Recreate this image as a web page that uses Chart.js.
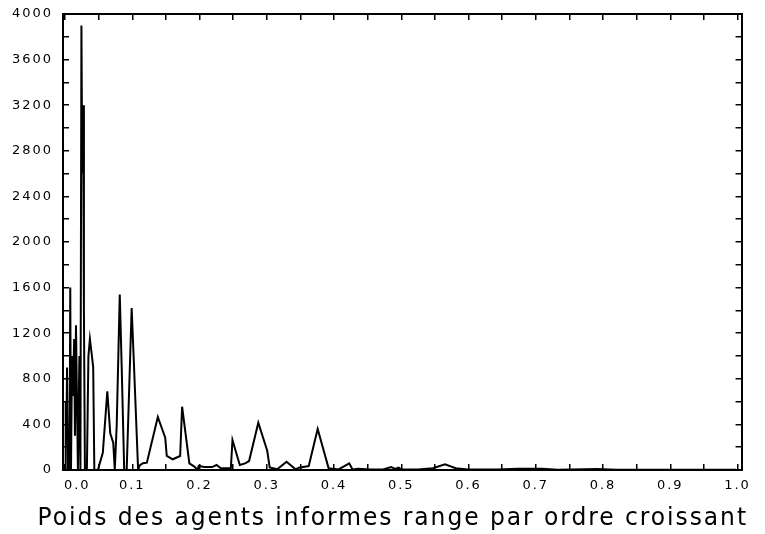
<!DOCTYPE html>
<html>
<head>
<meta charset="utf-8">
<script src="https://cdn.jsdelivr.net/npm/chart.js@4.4.1/dist/chart.umd.min.js"></script>
<style>
  html, body { margin: 0; padding: 0; background: #fff; }
  #wrap { width: 765px; height: 534px; }
</style>
</head>
<body>
<div id="wrap"><canvas id="chart" width="765" height="534"></canvas></div>
<script>
// poids des agents (x) et effectifs (y)
const weights = [
  0, 0.001, 0.002, 0.003, 0.0045, 0.0067, 0.0078, 0.0089, 0.0104, 0.0118,
  0.0136, 0.0148, 0.0163, 0.0178, 0.0192, 0.0214, 0.0229, 0.0244, 0.0256, 0.0269,
  0.0281, 0.0296, 0.0325, 0.0348, 0.037, 0.04, 0.0419, 0.0436, 0.0488, 0.0562,
  0.0629, 0.0673, 0.0717, 0.074, 0.0769, 0.0814, 0.0843, 0.088, 0.0917, 0.0991,
  0.102, 0.1087, 0.111, 0.1158, 0.1217, 0.138, 0.149, 0.1513, 0.1602, 0.1712,
  0.1741, 0.1849, 0.1923, 0.1972, 0.1987, 0.2071, 0.2189, 0.2253, 0.2318, 0.2466,
  0.249, 0.2599, 0.2678, 0.2737, 0.2874, 0.3007, 0.3043, 0.3155, 0.3294, 0.3428,
  0.3476, 0.3624, 0.3757, 0.392, 0.4068, 0.4226, 0.4275, 0.436, 0.454, 0.473,
  0.485, 0.491, 0.496, 0.5, 0.525, 0.547, 0.565, 0.581, 0.599, 0.643,
  0.673, 0.71, 0.732, 0.791, 0.82, 0.94, 0.998
];
const counts = [
  0, 600, 250, 900, 0, 0, 1600, 0, 1000, 650,
  1150, 300, 1270, 600, 0, 1000, 0, 3900, 2600, 3200,
  1400, 0, 0, 1000, 1150, 1000, 900, 0, 0, 150,
  690, 320, 240, 0, 400, 1540, 900, 0, 0, 1420,
  1000, 0, 40, 60, 64, 465, 283, 123, 94, 123,
  555, 58, 30, 0, 35, 26, 26, 44, 15, 15,
  263, 44, 58, 79, 414, 169, 23, 6, 73, 6,
  20, 35, 360, 15, 5, 58, 5, 10, 5, 5,
  25, 10, 20, 5, 5, 15, 50, 15, 5, 5,
  12, 10, 3, 8, 3, 3, 2
];

const xTicks = [0, 0.05, 0.1, 0.15, 0.2, 0.25, 0.3, 0.35, 0.4, 0.45, 0.5,
  0.55, 0.6, 0.65, 0.7, 0.75, 0.8, 0.85, 0.9, 0.95, 1.0];
const xLabels = ['0.0', '0.1', '0.2', '0.3', '0.4', '0.5', '0.6', '0.7', '0.8', '0.9', '1.0'];
const yTicks = [0, 200, 400, 600, 800, 1000, 1200, 1400, 1600, 1800, 2000,
  2200, 2400, 2600, 2800, 3000, 3200, 3400, 3600, 3800, 4000];
const yLabels = ['0', '400', '800', '1200', '1600', '2000', '2400', '2800', '3200', '3600', '4000'];
const xTitle = 'Poids des agents informes range par ordre croissant';

const font = 'DejaVu Sans';

const letterSpacing = {
  id: 'letterSpacing',
  beforeLayout: (chart) => { chart.ctx.letterSpacing = '2px'; },
  beforeDraw: (chart) => { chart.ctx.letterSpacing = '2px'; }
};

const tickGrid = { drawOnChartArea: false, drawTicks: true, tickLength: -6, color: '#000', lineWidth: 1.5 };
const frame = { display: true, color: '#000', width: 2 };

const xLabel = (v, i) => {
  if (i % 2) return '';
  const s = xLabels[i / 2];
  return i === 0 ? '    ' + s : s;   // le 0.0 est décalé vers la droite
};
const yLabel = (v, i) => (i % 2 ? '' : yLabels[i / 2]);

var ctx = document.querySelector('#chart').getContext('2d');
var chart = new Chart(ctx, {
  type: 'line',
  data: {
    datasets: [{
      data: weights.map((w, i) => ({ x: w, y: counts[i] })),
      borderColor: '#000',
      borderWidth: 2,
      pointRadius: 0,
      tension: 0,
      fill: false
    }]
  },
  options: {
    responsive: false,
    animation: false,
    layout: { padding: { top: 14, right: 17, left: 0, bottom: 0 } },
    plugins: {
      legend: { display: false },
      tooltip: { enabled: false },
      title: {
        display: true, text: '    ' + xTitle, position: 'bottom', align: 'start', color: '#000',
        font: { family: font, size: 24, weight: 'normal', lineHeight: 1.2 },
        padding: { top: 0, bottom: 1.2 }
      }
    },
    scales: {
      x: {
        type: 'linear', position: 'bottom', min: -0.003, max: 1.006,
        afterBuildTicks: (axis) => { axis.ticks = xTicks.map(v => ({ value: v })); },
        afterFit: (axis) => { axis.height = 34; },
        grid: tickGrid,
        border: frame,
        ticks: { autoSkip: false, maxRotation: 0, padding: 14, color: '#000',
          font: { family: font, size: 13 }, callback: xLabel }
      },
      x2: {
        type: 'linear', position: 'top', min: -0.003, max: 1.006,
        afterBuildTicks: (axis) => { axis.ticks = xTicks.map(v => ({ value: v })); },
        afterFit: (axis) => { axis.height = 0; },
        grid: tickGrid,
        border: frame,
        ticks: { display: false }
      },
      y: {
        type: 'linear', position: 'left', min: 0, max: 4000,
        afterBuildTicks: (axis) => { axis.ticks = yTicks.map(v => ({ value: v })); },
        afterFit: (axis) => { axis.width = 63; axis.paddingTop = 0; axis.paddingBottom = 0; },
        grid: tickGrid,
        border: frame,
        ticks: { autoSkip: false, padding: 16, color: '#000',
          font: { family: font, size: 13 }, callback: yLabel }
      },
      y2: {
        type: 'linear', position: 'right', min: 0, max: 4000,
        afterBuildTicks: (axis) => { axis.ticks = yTicks.map(v => ({ value: v })); },
        afterFit: (axis) => { axis.width = 3; },
        grid: tickGrid,
        border: frame,
        ticks: { display: false }
      }
    }
  },
  plugins: [letterSpacing]
});
</script>
</body>
</html>
